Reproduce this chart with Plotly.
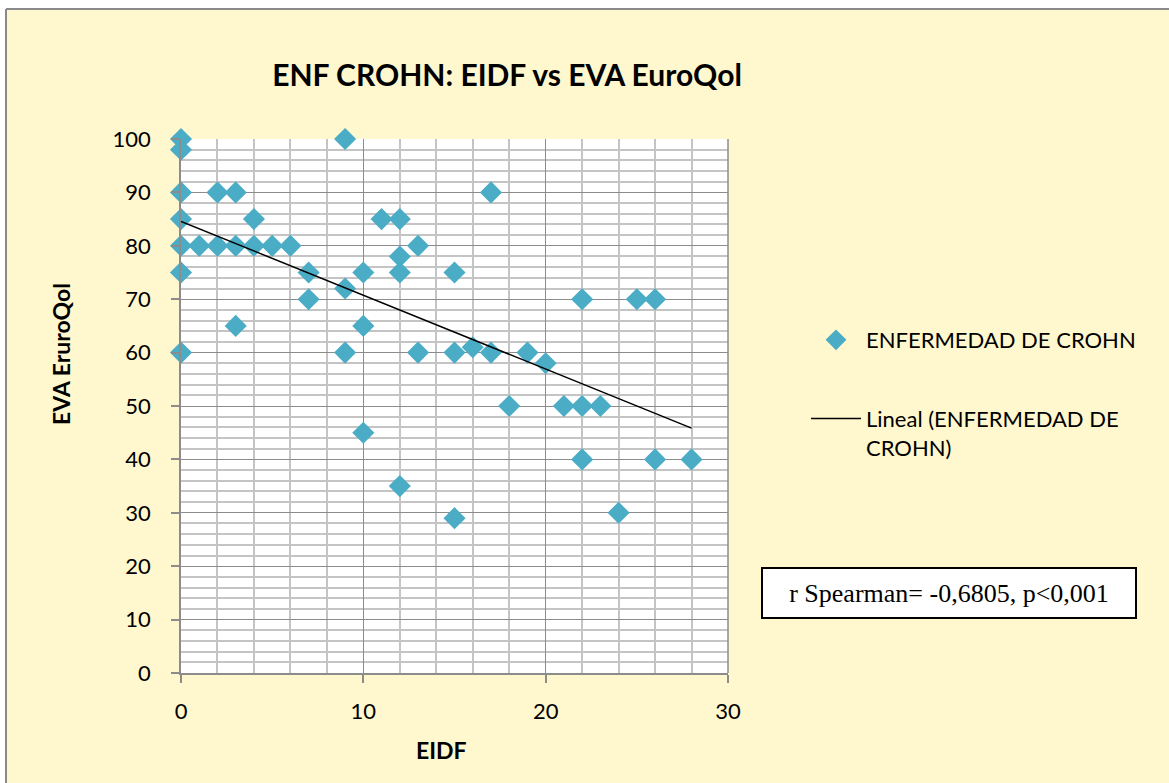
import numpy as np
import plotly.graph_objects as go

# ---- data ----
eidf = [0, 0, 0, 0, 0, 0, 0,
        1, 2, 2, 3, 3, 3, 4, 4, 5, 6,
        7, 7, 9, 9, 9, 10, 10, 10,
        11, 12, 12, 12, 12, 13, 13,
        15, 15, 15, 16, 17, 17, 18, 19, 20,
        21, 22, 22, 22, 23, 24, 25, 26, 26, 28]
eva = [100, 98, 90, 85, 80, 75, 60,
       80, 90, 80, 90, 80, 65, 85, 80, 80, 80,
       75, 70, 100, 72, 60, 75, 65, 45,
       85, 85, 78, 75, 35, 80, 60,
       75, 60, 29, 61, 90, 60, 50, 60, 58,
       50, 70, 50, 40, 50, 30, 70, 70, 40, 40]

series_name = "ENFERMEDAD DE CROHN"
trend_name = "Lineal (ENFERMEDAD DE<br>CROHN)"
title_text = "ENF CROHN: EIDF vs EVA EuroQol"
x_title = "EIDF"
y_title = "EVA EruroQol"
stats_text = "r Spearman= -0,6805, p<0,001"

# linear trend (least squares) over the data range
slope, intercept = np.polyfit(eidf, eva, 1)
trend_x = [min(eidf), max(eidf)]
trend_y = [intercept + slope * v for v in trend_x]

W, H = 1169, 783
L, R, T, B = 181, 728, 139, 673  # plot area in pixels


def px(xp):
    return (xp - L) / (R - L)


def py(yp):
    return (B - yp) / (B - T)


BG = "#FFF7CD"
MARK = "#4BACC6"
FONT = "Lato, 'Open Sans', sans-serif"

fig = go.Figure()
fig.add_trace(go.Scatter(
    x=eidf, y=eva, mode="markers", name=series_name,
    marker=dict(symbol="diamond", size=17, color=MARK, line=dict(width=0)),
    legendgroup="a", cliponaxis=False,
))
fig.add_trace(go.Scatter(
    x=trend_x, y=trend_y, mode="lines", name=trend_name,
    line=dict(color="black", width=1.5),
    legendgroup="b",
))

grid_major = "#8C8C8C"
grid_minor = "#C4C4C4"

fig.update_xaxes(
    range=[0, 30], dtick=10, tick0=0,
    showgrid=True, gridcolor=grid_major, gridwidth=1,
    minor=dict(dtick=2, showgrid=True, gridcolor=grid_minor, gridwidth=1.5),
    showline=True, linecolor=grid_major, linewidth=1.5,
    ticks="outside", ticklen=8, tickcolor=grid_major, tickwidth=1.5,
    tickfont=dict(family=FONT, size=22, color="black"),
    ticklabelstandoff=10,
    zeroline=False, mirror=False,
)
fig.update_yaxes(
    range=[0, 100], dtick=10, tick0=0,
    showgrid=True, gridcolor=grid_major, gridwidth=1,
    minor=dict(dtick=2, showgrid=True, gridcolor=grid_minor, gridwidth=1.5),
    showline=True, linecolor=grid_major, linewidth=1.5,
    ticks="outside", ticklen=8, tickcolor=grid_major, tickwidth=1.5,
    tickfont=dict(family=FONT, size=22, color="black"),
    ticklabelstandoff=16,
    zeroline=False,
)

shapes = [
    # white strip above the chart frame and to its left
    dict(type="rect", xref="paper", yref="paper", layer="below",
         x0=px(-5), x1=px(W + 5), y0=py(9), y1=py(-5),
         fillcolor="white", line=dict(width=0)),
    dict(type="rect", xref="paper", yref="paper", layer="below",
         x0=px(-5), x1=px(6), y0=py(H + 5), y1=py(-5),
         fillcolor="white", line=dict(width=0)),
    # chart frame border (left and top)
    dict(type="line", xref="paper", yref="paper", layer="above",
         x0=px(6), x1=px(6), y0=py(9), y1=py(H + 5),
         line=dict(color="#8A8A8A", width=2)),
    dict(type="line", xref="paper", yref="paper", layer="above",
         x0=px(6), x1=px(W + 5), y0=py(9), y1=py(9),
         line=dict(color="#8A8A8A", width=2)),
    # right edge of plot area
    dict(type="line", xref="paper", yref="paper", layer="above",
         x0=1, x1=1, y0=0, y1=1, line=dict(color=grid_major, width=1.5)),
]

annotations = [
    dict(text=f"<b>{x_title}</b>", xref="paper", yref="paper",
         x=px(441), y=py(750), xanchor="center", yanchor="middle",
         showarrow=False, font=dict(family=FONT, size=23, color="black")),
    dict(text=f"<b>{y_title}</b>", xref="paper", yref="paper",
         x=px(61), y=py(354), xanchor="center", yanchor="middle",
         textangle=-90, showarrow=False,
         font=dict(family=FONT, size=23, color="black")),
    dict(text=stats_text, xref="paper", yref="paper",
         x=px(949), y=py(593), xanchor="center", yanchor="middle",
         showarrow=False, width=370, height=46, align="center",
         bgcolor="white", bordercolor="black", borderwidth=2, borderpad=1,
         font=dict(family="'Liberation Serif', 'Times New Roman', serif",
                   size=26, color="black")),
]

fig.update_layout(
    width=W, height=H,
    margin=dict(l=L, r=W - R, t=T, b=H - B, pad=0),
    paper_bgcolor=BG, plot_bgcolor="white",
    font=dict(family=FONT, color="black"),
    title=dict(text=f"<b>{title_text}</b>", xref="container", yref="container",
               x=507 / W, y=1 - 75 / H, xanchor="center", yanchor="middle",
               font=dict(family=FONT, size=30, color="black")),
    showlegend=True,
    legend=dict(x=px(806), y=py(319), xanchor="left", yanchor="top",
                bgcolor="rgba(0,0,0,0)", borderwidth=0,
                font=dict(family=FONT, size=22, color="black"),
                itemwidth=50, tracegroupgap=47, valign="top",
                traceorder="grouped"),
    shapes=shapes,
    annotations=annotations,
)

fig.write_html(
    "out.html",
    config={"displayModeBar": False},
    post_script="document.body.style.margin='0';document.body.style.overflow='hidden';",
)
